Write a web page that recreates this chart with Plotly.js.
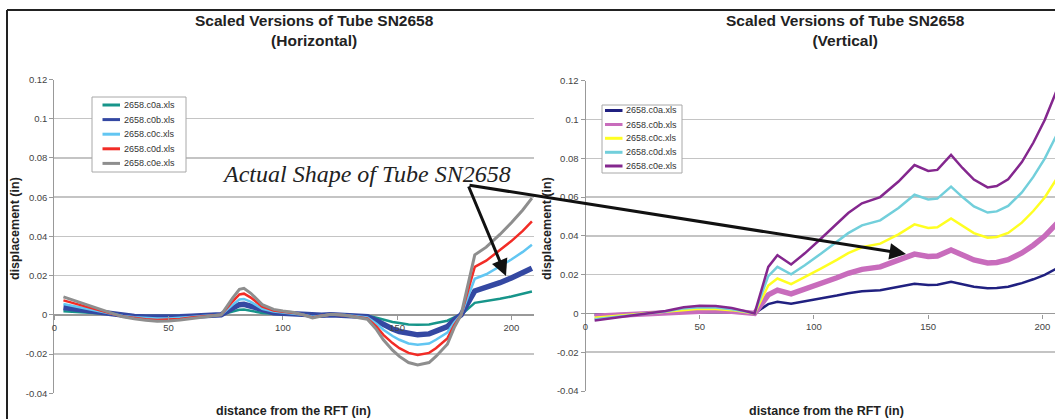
<!DOCTYPE html>
<html>
<head>
<meta charset="utf-8">
<script src="https://cdn.plot.ly/plotly-3.0.1.min.js"></script>
<style>
html,body{margin:0;padding:0;background:#fff;}
#chart{width:1055px;height:419px;}
</style>
</head>
<body>
<div id="chart"></div>
<script>
// ---------- Data: Horizontal (left chart) ----------
const xH = [4, 10, 15, 20, 27, 30, 35, 40, 45, 50, 55, 60, 65, 70, 73, 78, 81, 83, 86, 91, 96, 100, 105, 109, 113, 117, 121, 127, 133, 137, 141, 144, 148, 151, 155, 159, 164, 167, 172, 175, 178, 184, 189, 195, 200, 205, 209];
const h_c0a = [0.0018, 0.0014, 0.0009, 0.0005, 0.0000, -0.0002, -0.0004, -0.0006, -0.0006, -0.0006, -0.0005, -0.0004, -0.0002, -0.0001, 0.0000, 0.0017, 0.0026, 0.0027, 0.0022, 0.0010, 0.0006, 0.0004, 0.0002, 0.0000, -0.0003, -0.0001, 0.0001, 0.0000, -0.0002, -0.0004, -0.0015, -0.0025, -0.0036, -0.0042, -0.0049, -0.0051, -0.0049, -0.0042, -0.0030, -0.0013, 0.0000, 0.0061, 0.0069, 0.0082, 0.0094, 0.0107, 0.0119];
const h_c0b = [0.0037, 0.0027, 0.0019, 0.0011, 0.0000, -0.0004, -0.0008, -0.0011, -0.0013, -0.0012, -0.0010, -0.0007, -0.0004, -0.0002, 0.0000, 0.0034, 0.0052, 0.0054, 0.0044, 0.0021, 0.0011, 0.0008, 0.0005, 0.0000, -0.0006, -0.0002, 0.0001, -0.0001, -0.0005, -0.0009, -0.0030, -0.0051, -0.0072, -0.0085, -0.0097, -0.0102, -0.0097, -0.0085, -0.0060, -0.0026, 0.0000, 0.0122, 0.0138, 0.0164, 0.0188, 0.0214, 0.0238];
const h_c0c = [0.0055, 0.0041, 0.0028, 0.0016, 0.0000, -0.0006, -0.0012, -0.0017, -0.0019, -0.0019, -0.0016, -0.0011, -0.0006, -0.0002, 0.0000, 0.0051, 0.0078, 0.0081, 0.0066, 0.0031, 0.0017, 0.0012, 0.0007, 0.0000, -0.0010, -0.0004, 0.0002, -0.0001, -0.0007, -0.0013, -0.0045, -0.0076, -0.0108, -0.0127, -0.0146, -0.0153, -0.0146, -0.0127, -0.0090, -0.0039, 0.0000, 0.0184, 0.0207, 0.0246, 0.0282, 0.0321, 0.0357];
const h_c0d = [0.0074, 0.0054, 0.0038, 0.0022, 0.0000, -0.0008, -0.0016, -0.0022, -0.0026, -0.0025, -0.0021, -0.0014, -0.0008, -0.0003, 0.0000, 0.0068, 0.0104, 0.0108, 0.0088, 0.0042, 0.0022, 0.0016, 0.0010, 0.0000, -0.0013, -0.0005, 0.0002, -0.0002, -0.0010, -0.0018, -0.0060, -0.0102, -0.0144, -0.0170, -0.0194, -0.0204, -0.0194, -0.0170, -0.0120, -0.0052, 0.0000, 0.0245, 0.0276, 0.0328, 0.0376, 0.0428, 0.0476];
const h_c0e = [0.0092, 0.0068, 0.0047, 0.0027, 0.0000, -0.0010, -0.0020, -0.0028, -0.0032, -0.0031, -0.0026, -0.0018, -0.0010, -0.0004, 0.0000, 0.0085, 0.0130, 0.0135, 0.0110, 0.0052, 0.0028, 0.0020, 0.0012, 0.0000, -0.0016, -0.0006, 0.0003, -0.0002, -0.0012, -0.0022, -0.0075, -0.0127, -0.0180, -0.0212, -0.0243, -0.0255, -0.0243, -0.0212, -0.0150, -0.0065, 0.0000, 0.0306, 0.0345, 0.0410, 0.0470, 0.0535, 0.0595];

// ---------- Data: Vertical (right chart) ----------
const xV = [4, 15, 25, 35, 43, 50, 57, 64, 70, 74, 80, 84, 90, 96, 103, 110, 115, 121, 129, 137, 144, 150, 154, 160, 165, 170, 176, 180, 185, 191, 196, 201, 206, 210];
const v_c0a = [-0.0007, -0.0004, -0.0001, 0.0003, 0.0006, 0.0008, 0.0008, 0.0006, 0.0002, 0.0000, 0.0048, 0.0060, 0.0050, 0.0062, 0.0077, 0.0092, 0.0104, 0.0114, 0.0120, 0.0136, 0.0153, 0.0147, 0.0148, 0.0163, 0.0150, 0.0138, 0.0130, 0.0131, 0.0138, 0.0156, 0.0176, 0.0199, 0.0230, 0.0252];
const v_c0b = [-0.0015, -0.0008, -0.0001, 0.0005, 0.0013, 0.0016, 0.0015, 0.0011, 0.0005, 0.0000, 0.0096, 0.0120, 0.0101, 0.0124, 0.0154, 0.0184, 0.0207, 0.0227, 0.0240, 0.0272, 0.0306, 0.0294, 0.0296, 0.0327, 0.0300, 0.0276, 0.0260, 0.0263, 0.0277, 0.0312, 0.0352, 0.0399, 0.0460, 0.0504];
const v_c0c = [-0.0022, -0.0011, -0.0002, 0.0008, 0.0019, 0.0024, 0.0023, 0.0017, 0.0007, 0.0000, 0.0144, 0.0180, 0.0151, 0.0186, 0.0231, 0.0276, 0.0311, 0.0341, 0.0360, 0.0408, 0.0459, 0.0441, 0.0444, 0.0490, 0.0450, 0.0414, 0.0390, 0.0394, 0.0415, 0.0468, 0.0528, 0.0598, 0.0690, 0.0756];
const v_c0d = [-0.0030, -0.0015, -0.0002, 0.0010, 0.0026, 0.0032, 0.0030, 0.0022, 0.0010, 0.0000, 0.0192, 0.0240, 0.0202, 0.0248, 0.0308, 0.0368, 0.0414, 0.0454, 0.0480, 0.0544, 0.0612, 0.0588, 0.0592, 0.0654, 0.0600, 0.0552, 0.0520, 0.0526, 0.0554, 0.0624, 0.0704, 0.0798, 0.0920, 0.1008];
const v_c0e = [-0.0037, -0.0019, -0.0003, 0.0013, 0.0032, 0.0040, 0.0038, 0.0028, 0.0012, 0.0000, 0.0240, 0.0300, 0.0252, 0.0310, 0.0385, 0.0460, 0.0518, 0.0568, 0.0600, 0.0680, 0.0765, 0.0735, 0.0740, 0.0817, 0.0750, 0.0690, 0.0650, 0.0657, 0.0692, 0.0780, 0.0880, 0.0997, 0.1150, 0.1260];

const seriesNames = ["2658.c0a.xls", "2658.c0b.xls", "2658.c0c.xls", "2658.c0d.xls", "2658.c0e.xls"];
const xTickVals = [0, 50, 100, 150, 200];
const xTickText = ["0", "50", "100", "150", "200"];
const yTickVals = [-0.04, -0.02, 0, 0.02, 0.04, 0.06, 0.08, 0.1, 0.12];
const yTickText = ["-0.04", "-0.02", "0", "0.02", "0.04", "0.06", "0.08", "0.1", "0.12"];
const chartTitles = ["Scaled Versions of Tube SN2658<br>(Horizontal)", "Scaled Versions of Tube SN2658<br>(Vertical)"];
const xTitle = "distance from the RFT (in)";
const yTitle = "displacement (in)";
const noteText = "Actual Shape of Tube SN2658";

// ---------- Styles ----------
const hColors = ["#17958a", "#3448a2", "#62c6f2", "#f22c26", "#8e8e8e"];
const hWidths = [2.5, 5.5, 2.5, 2.5, 3];
const vColors = ["#202080", "#c86cbc", "#ffff22", "#72cfdb", "#84278e"];
const vWidths = [2.5, 5.5, 2.5, 2.5, 2.5];

const hY = [h_c0a, h_c0b, h_c0c, h_c0d, h_c0e];
const vY = [v_c0a, v_c0b, v_c0c, v_c0d, v_c0e];

const traces = [];
hY.forEach((ys, i) => traces.push({
  type: "scatter", mode: "lines", x: xH, y: ys, name: seriesNames[i],
  xaxis: "x", yaxis: "y", showlegend: false,
  line: {color: hColors[i], width: hWidths[i]}
}));
vY.forEach((ys, i) => traces.push({
  type: "scatter", mode: "lines", x: xV, y: ys, name: seriesNames[i],
  xaxis: "x2", yaxis: "y2", showlegend: false,
  line: {color: vColors[i], width: vWidths[i]}
}));

const W = 1055, H = 419;
const px = v => v / W;
const py = v => 1 - v / H;

const FONT = "Liberation Sans, Arial, sans-serif";
const tickFont = {family: FONT, size: 9.5, color: "#444"};

function xAxis(domain, range, pos) {
  return {
    domain: domain, range: range, anchor: "free", position: pos,
    tickvals: xTickVals, ticktext: xTickText, tickfont: tickFont,
    ticks: "outside", ticklen: 4, tickcolor: "#999", tickwidth: 1,
    showline: false, showgrid: false, zeroline: false, fixedrange: true
  };
}
function yAxis(domain, anchor) {
  return {
    domain: domain, range: [-0.04, 0.12], anchor: anchor,
    tickvals: yTickVals, ticktext: yTickText, tickfont: tickFont,
    ticks: "outside", ticklen: 4, tickcolor: "#999", tickwidth: 1,
    showline: true, linecolor: "#999", linewidth: 1,
    showgrid: true, gridcolor: "#c4c4c4", gridwidth: 1.5,
    zeroline: true, zerolinecolor: "#999", zerolinewidth: 1.5, fixedrange: true
  };
}

const shapes = [
  {type: "line", xref: "paper", yref: "paper", x0: px(7), x1: 1, y0: py(10), y1: py(10), line: {color: "#222", width: 2}},
  {type: "line", xref: "paper", yref: "paper", x0: px(7), x1: px(7), y0: 0, y1: py(10), line: {color: "#222", width: 2}}
];
const annotations = [
  {text: "<b>" + chartTitles[0] + "</b>", xref: "paper", yref: "paper", x: px(314), y: py(30), showarrow: false,
   font: {family: FONT, size: 15.5, color: "#222"}, xanchor: "center", yanchor: "middle"},
  {text: "<b>" + chartTitles[1] + "</b>", xref: "paper", yref: "paper", x: px(845), y: py(30), showarrow: false,
   font: {family: FONT, size: 15.5, color: "#222"}, xanchor: "center", yanchor: "middle"},
  {text: "<b>" + xTitle + "</b>", xref: "paper", yref: "paper", x: px(293), y: py(411), showarrow: false,
   font: {family: FONT, size: 12.5, color: "#222"}, xanchor: "center", yanchor: "middle"},
  {text: "<b>" + xTitle + "</b>", xref: "paper", yref: "paper", x: px(826), y: py(411), showarrow: false,
   font: {family: FONT, size: 12.5, color: "#222"}, xanchor: "center", yanchor: "middle"},
  {text: "<b>" + yTitle + "</b>", xref: "paper", yref: "paper", x: px(15), y: py(229), showarrow: false, textangle: -90,
   font: {family: FONT, size: 12.5, color: "#222"}, xanchor: "center", yanchor: "middle"},
  {text: "<b>" + yTitle + "</b>", xref: "paper", yref: "paper", x: px(547), y: py(229), showarrow: false, textangle: -90,
   font: {family: FONT, size: 12.5, color: "#222"}, xanchor: "center", yanchor: "middle"},
  {text: noteText, xref: "paper", yref: "paper", x: px(366), y: py(174), showarrow: false,
   font: {family: "Liberation Serif, serif", size: 24, color: "#222", style: "italic"}, xanchor: "center", yanchor: "middle"},
  {text: "", xref: "paper", yref: "paper", x: px(506), y: py(276), showarrow: true,
   ax: -38, ay: -91, arrowhead: 2, arrowsize: 1.1, arrowwidth: 3, arrowcolor: "#111"},
  {text: "", xref: "paper", yref: "paper", x: px(906), y: py(254), showarrow: true,
   ax: -438, ay: -69, arrowhead: 2, arrowsize: 1.1, arrowwidth: 3, arrowcolor: "#111"}
];

// Legend boxes (Excel-style compact legends)
function addLegend(box, lineX, textX, rowY, colors) {
  shapes.push({type: "rect", xref: "paper", yref: "paper",
    x0: px(box[0]), x1: px(box[2]), y0: py(box[3]), y1: py(box[1]),
    line: {color: "#a8a8a8", width: 1}, fillcolor: "#ffffff", layer: "above"});
  seriesNames.forEach((name, i) => {
    shapes.push({type: "line", xref: "paper", yref: "paper",
      x0: px(lineX[0]), x1: px(lineX[1]), y0: py(rowY[i]), y1: py(rowY[i]),
      line: {color: colors[i], width: 3}, layer: "above"});
    annotations.push({text: name, xref: "paper", yref: "paper", x: px(textX), y: py(rowY[i]),
      xanchor: "left", yanchor: "middle", showarrow: false,
      font: {family: FONT, size: 9, color: "#333"}});
  });
}
addLegend([92, 97, 186, 172], [102.5, 120], 121.5, [105, 119.6, 134.2, 148.8, 163.4], hColors);
addLegend([602, 105, 682, 173], [605, 622.5], 624, [110.5, 124.5, 138.3, 152.3, 166], vColors);

const layout = {
  width: W, height: H,
  margin: {l: 0, r: 0, t: 0, b: 0},
  paper_bgcolor: "#ffffff", plot_bgcolor: "#ffffff",
  showlegend: false,
  xaxis: xAxis([px(54.3), px(534.2)], [0, 210], py(315)),
  yaxis: yAxis([py(393.3), py(79.5)], "x"),
  xaxis2: xAxis([px(585.5), 1], [0, 205.5], py(313.5)),
  yaxis2: yAxis([py(391), py(80.7)], "x2"),
  shapes: shapes,
  annotations: annotations
};

Plotly.newPlot("chart", traces, layout, {displayModeBar: false, staticPlot: true});
</script>
</body>
</html>
